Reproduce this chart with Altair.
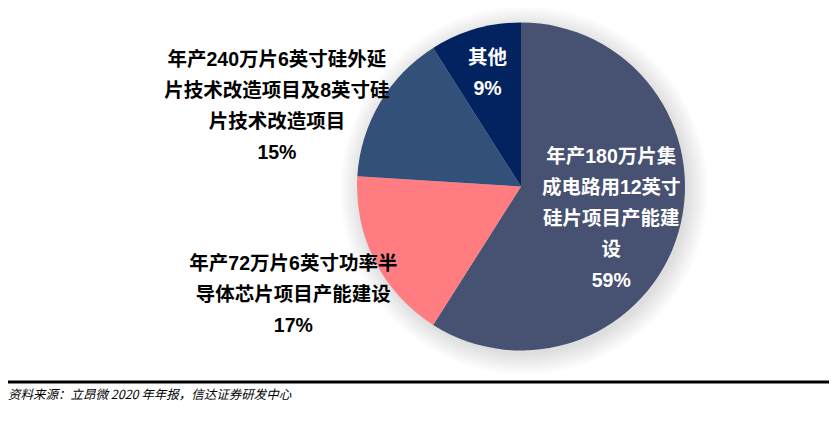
import altair as alt
import pandas as pd

categories = ["集成电路12英寸硅片", "6英寸功率半导体芯片", "6/8英寸硅片技术改造", "其他"]
values = [59, 17, 15, 9]
order_idx = [0, 1, 2, 3]
labels = [
    "年产180万片集\n成电路用12英寸\n硅片项目产能建\n设\n59%",
    "年产72万片6英寸功率半\n导体芯片项目产能建设\n17%",
    "年产240万片6英寸硅外延\n片技术改造项目及8英寸硅\n片技术改造项目\n15%",
    "其他\n9%",
]
colors = ["#475172", "#ff7c80", "#335078", "#022360"]
source_text = "资料来源：立昂微 2020 年年报，信达证券研发中心"

df = pd.DataFrame({"cat": categories, "value": values, "idx": order_idx, "label": labels})

W, H = 821, 406
CX, CY, R = 513, 178.5, 164
FONT = '"Liberation Sans", "Noto Sans CJK SC", sans-serif'

theta_scale = alt.Scale(domain=[0, 100])
color_scale = alt.Scale(domain=categories, range=colors)

base = alt.Chart(df).transform_window(
    cum="sum(value)", sort=[{"field": "idx"}]
).transform_calculate(
    start="datum.cum - datum.value",
    mid="datum.cum - datum.value / 2",
)

# soft shadow rings
shadow_df = pd.DataFrame({"k": [0]})
shadow_layers = []
for i in range(11):
    shadow_layers.append(
        alt.Chart(shadow_df).mark_arc(
            theta=0, theta2=6.2832, radius=R + 2 * i, color="#000000", opacity=0.012
        ).encode(x=alt.value(CX + 3), y=alt.value(CY + 4))
    )

arcs = base.mark_arc(radius=R, stroke=None).encode(
    theta=alt.Theta("start:Q", scale=theta_scale),
    theta2="cum:Q",
    color=alt.Color("cat:N", scale=color_scale, legend=None),
    x=alt.value(CX),
    y=alt.value(CY),
)


def label_layer(cat, radius, dx, dy, color):
    return base.transform_filter(alt.datum.cat == cat).mark_text(
        radius=radius, dx=dx, dy=dy, color=color, font=FONT, fontSize=19.5,
        fontWeight="bold", lineBreak="\n", lineHeight=31, align="center", baseline="middle",
    ).encode(
        theta=alt.Theta("mid:Q", scale=theta_scale),
        text="label:N",
        x=alt.value(CX),
        y=alt.value(CY),
    )


t59 = label_layer(categories[0], 95, -1, -56, "white")
t17 = label_layer(categories[1], 251, -4, -36, "black")
t15 = label_layer(categories[2], 258, -22, 5, "black")
t9 = label_layer(categories[3], 120, 0, -13, "white")

rule = alt.Chart(shadow_df).mark_rule(color="black", strokeWidth=3).encode(
    x=alt.value(0), x2=alt.value(W), y=alt.value(374)
)
foot = alt.Chart(shadow_df).mark_text(
    align="left", baseline="middle", fontSize=12.5, fontStyle="italic",
    font='"Noto Sans CJK SC", sans-serif', color="black",
).encode(x=alt.value(0), y=alt.value(387), text=alt.value(source_text))

chart = alt.layer(*shadow_layers, arcs, t59, t17, t15, t9, rule, foot).properties(
    width=W, height=H, padding=0, autosize=alt.AutoSizeParams(type="none")
).configure_view(stroke=None)

chart.save("out.html", embed_options={"renderer": "svg", "actions": False})
